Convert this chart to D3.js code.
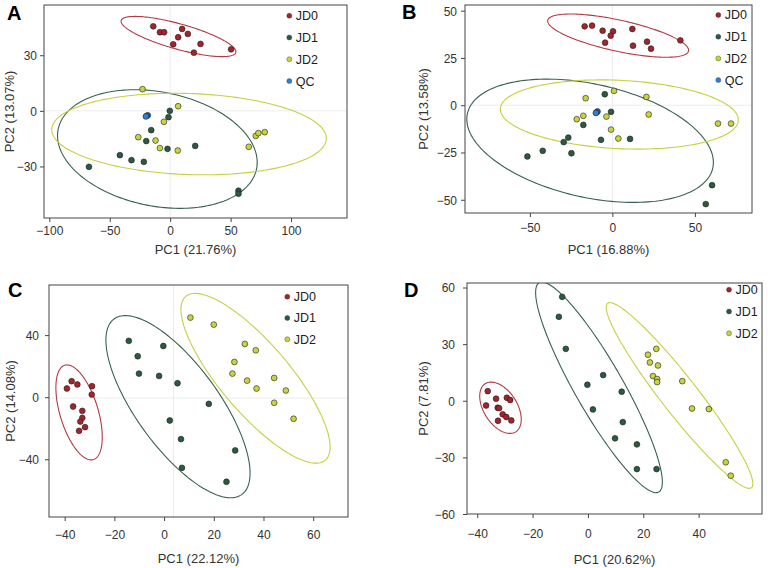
<!DOCTYPE html>
<html>
<head>
<meta charset="utf-8">
<script src="https://cdn.jsdelivr.net/npm/d3@7/dist/d3.min.js"></script>
<style>
  html, body { margin: 0; padding: 0; background: #fff; }
  svg { display: block; font-family: "Liberation Sans", Arial, Helvetica, sans-serif; }
</style>
</head>
<body>
<svg id="chart" width="768" height="568"></svg>
<script>
// ---------- DATA ----------
const groups = ["JD0", "JD1", "JD2", "QC"];
const groupColors = ["#a3252c", "#2c5a40", "#c8d43f", "#2f80d2"];
const ellipseColors = ["#b23a44", "#3a6150", "#c6d040"];

// Panel A
const A_JD0 = [[-14.0,45.6],[-8.5,42.4],[-5.0,42.4],[9.9,44.2],[14.6,41.5],[6.6,39.7],[2.5,35.9],[25.1,36.1],[19.6,31.4],[50.4,33.2]];
const A_JD1 = [[-0.3,0.0],[-1.4,-3.4],[-15.7,-10.4],[-19.8,-16.3],[-2.2,-20.5],[20.7,-18.9],[-41.6,-23.9],[-32.0,-26.6],[-21.8,-27.5],[-67.2,-30.2],[56.5,-43.1],[56.5,-44.7]];
const A_JD2 = [[-22.9,11.7],[6.6,2.5],[-5.2,-5.9],[-26.4,-14.2],[-12.1,-16.0],[-8.5,-20.1],[6.3,-21.4],[65.0,-19.4],[70.8,-13.5],[73.0,-12.0],[78.2,-11.5]];
const A_QC  = [[-18.5,-2.4],[-19.3,-2.7],[-20.1,-3.0]];
// ellipse: [cx, cy, rx, ry, rho]
const A_ell = [[6.9,40.1,47.5,10.85,-0.757],[-10.6,-20.6,82.6,32.0,-0.225],[15.6,-12.5,113.6,22.0,-0.106]];
const A_xTicks = [-100,-50,0,50,100], A_yTicks = [-30,0,30];

// Panel B
const B_JD0 = [[-16.8,41.7],[-12.3,42.1],[-5.9,39.4],[0.4,39.1],[-1.0,36.8],[-4.4,33.1],[12.1,40.3],[12.5,31.5],[21.0,33.6],[23.4,29.9],[41.2,34.3]];
const B_JD1 = [[-4.6,5.8],[-0.8,-3.5],[-17.6,-10.4],[-26.7,-17.1],[-29.5,-19.5],[-24.8,-25.4],[-42.2,-24.1],[-51.5,-27.1],[-6.9,-18.3],[10.7,-17.8],[60.4,-42.3],[56.6,-52.3]];
const B_JD2 = [[-16.2,3.7],[1.0,7.6],[20.6,4.4],[-21.6,-7.4],[-17.6,-5.6],[-3.6,-6.0],[22.0,-4.9],[-0.8,-12.9],[3.6,-17.6],[64.0,-9.7],[71.9,-9.7]];
const B_QC  = [[-9.0,-3.3],[-9.5,-3.7],[-10.0,-4.1]];
const B_ell = [[3.5,36.8,42.7,11.44,-0.677],[-13.5,-18.8,74.7,32.6,-0.351],[4.2,-4.9,72.1,18.3,-0.154]];
const B_xTicks = [-50,0,50], B_yTicks = [-50,-25,0,25,50];

// Panel C
const C_JD0 = [[-39.1,5.6],[-37.2,10.3],[-34.9,8.2],[-29.0,7.1],[-29.1,1.7],[-36.6,-6.0],[-32.9,-8.8],[-32.9,-13.3],[-33.7,-15.7],[-31.8,-19.3],[-34.2,-21.7]];
const C_JD1 = [[-14.2,36.3],[-0.3,33.0],[-10.6,26.4],[-10.1,15.2],[-2.0,13.7],[5.4,9.0],[18.0,-4.3],[2.3,-15.0],[6.8,-27.0],[28.6,-34.3],[7.2,-45.5],[25.1,-54.5]];
const C_JD2 = [[10.6,51.3],[20.0,46.8],[32.5,34.3],[36.9,30.2],[28.3,22.7],[27.5,15.2],[33.4,10.7],[44.3,12.4],[37.2,5.6],[49.0,4.3],[44.3,-3.6],[52.1,-13.9]];
const C_ell = [[-34.2,-9.8,9.33,30.6,-0.52],[5.6,-6.1,29.0,58.7,-0.73],[36.8,12.2,30.0,54.7,-0.81]];
const C_xTicks = [-40,-20,0,20,40,60], C_yTicks = [-40,0,40];

// Panel D
const D_JD0 = [[-36.2,5.1],[-36.8,-2.5],[-33.2,1.1],[-32.6,-3.7],[-32.1,-3.9],[-29.3,1.6],[-28.1,0.4],[-30.8,-7.2],[-29.5,-8.6],[-32.5,-10.6],[-27.7,-10.4]];
const D_JD1 = [[-9.3,55.1],[-10.5,44.5],[-8.0,27.5],[5.5,13.6],[-0.2,8.5],[12.2,4.8],[1.8,-4.6],[12.6,-11.3],[9.8,-19.9],[17.7,-23.1],[17.7,-36.2],[24.8,-36.2]];
const D_JD2 = [[21.7,24.4],[24.7,27.5],[22.4,20.3],[25.3,18.7],[23.5,13.1],[25.0,11.5],[25.0,9.9],[34.1,10.4],[37.6,-4.1],[43.7,-4.4],[49.8,-32.6],[51.6,-39.7]];
const D_ell = [[-31.6,-3.7,7.5,13.6,-0.45],[4.0,7.1,22.9,55.8,-0.9],[33.1,2.8,26.5,49.2,-0.95]];
const D_xTicks = [-40,-20,0,20,40], D_yTicks = [-60,-30,0,30,60];

// ---------- LAYOUT ----------
const panels = [
  { id:"A", box:[44,5,347,218], xd:[-104.4,146.3], yd:[-57.8,57.1], xt:A_xTicks, yt:A_yTicks,
    series:[A_JD0,A_JD1,A_JD2,A_QC], ell:A_ell, grid:[[0],[0]], xlab:"PC1 (21.76%)", ylab:"PC2 (13.07%)",
    letter:[7,19.5], xlabY:254, tickY:235, ylabX:9, ypad:3, leg:[289.3,15.7,21.8] },
  { id:"B", box:[465,5,752,213], xd:[-89.3,84.6], yd:[-57.0,53.0], xt:B_xTicks, yt:B_yTicks,
    series:[B_JD0,B_JD1,B_JD2,B_QC], ell:B_ell, grid:[[0],[0]], xlab:"PC1 (16.88%)", ylab:"PC2 (13.58%)",
    letter:[402,18.5], xlabY:254, tickY:232, ylabX:423, ypad:4, leg:[718.3,15,21.7] },
  { id:"C", box:[49,285,348,517], xd:[-46.3,74.0], yd:[-77.2,72.3], xt:C_xTicks, yt:C_yTicks,
    series:[C_JD0,C_JD1,C_JD2], ell:C_ell, grid:[[3.8],[-0.6]], xlab:"PC1 (22.12%)", ylab:"PC2 (14.08%)",
    letter:[8,297], xlabY:563, tickY:539, ylabX:10, ypad:6, leg:[287.3,296.7,21.3] },
  { id:"D", box:[467,283,762,514], xd:[-43.7,62.9], yd:[-60,62.4], xt:D_xTicks, yt:D_yTicks,
    series:[D_JD0,D_JD1,D_JD2], ell:D_ell, grid:[[],[]], xlab:"PC1 (20.62%)", ylab:"PC2 (7.81%)",
    letter:[404,297], xlabY:564, tickY:538, ylabX:423, ypad:8, leg:[729,289.7,21.8] }
];

const svg = d3.select("#chart");
const defs = svg.append("defs");

panels.forEach((p, pi) => {
  const [x0,y0,x1,y1] = p.box;
  const x = d3.scaleLinear().domain(p.xd).range([x0,x1]);
  const y = d3.scaleLinear().domain(p.yd).range([y1,y0]);
  const g = svg.append("g");

  defs.append("clipPath").attr("id","clip"+p.id)
    .append("rect").attr("x",x0).attr("y",y0).attr("width",x1-x0).attr("height",y1-y0);

  // grid lines
  g.selectAll(".gx").data(p.grid[0]).join("line")
    .attr("x1",d=>x(d)).attr("x2",d=>x(d)).attr("y1",y0).attr("y2",y1)
    .attr("stroke","#ececec").attr("stroke-width",1);
  g.selectAll(".gy").data(p.grid[1]).join("line")
    .attr("y1",d=>y(d)).attr("y2",d=>y(d)).attr("x1",x0).attr("x2",x1)
    .attr("stroke","#ececec").attr("stroke-width",1);

  // axes
  const xAxis = d3.axisBottom(x).tickValues(p.xt).tickSize(4).tickPadding(3).tickFormat(d3.format("d"));
  const yAxis = d3.axisLeft(y).tickValues(p.yt).tickSize(4).tickPadding(p.ypad).tickFormat(d3.format("d"));
  const gx = g.append("g").attr("transform",`translate(0,${y1})`).call(xAxis);
  const gy = g.append("g").attr("transform",`translate(${x0},0)`).call(yAxis);
  [gx,gy].forEach(a => {
    a.select(".domain").remove();
    a.selectAll(".tick line").attr("stroke","#444");
    a.selectAll(".tick text").attr("fill","#333").style("font-size","12px")
      .style("font-family","'Liberation Sans', Arial, sans-serif");
  });
  gx.selectAll(".tick text").attr("dy",null).attr("y", p.tickY - y1);
  gy.selectAll(".tick text").attr("dy","0.36em");

  // ellipses
  const line = d3.line().x(d=>x(d[0])).y(d=>y(d[1])).curve(d3.curveLinearClosed);
  const ts = d3.range(0, 360, 2).map(a => a*Math.PI/180);
  const eg = g.append("g").attr("clip-path",`url(#clip${p.id})`);
  p.ell.forEach((e, i) => {
    const [cx,cy,rx,ry,rho] = e;
    const pts = ts.map(t => [cx + rx*Math.cos(t), cy + ry*(rho*Math.cos(t) + Math.sqrt(1-rho*rho)*Math.sin(t))]);
    eg.append("path").attr("d", line(pts)).attr("fill","none")
      .attr("stroke", ellipseColors[i]).attr("stroke-width",1.1);
  });

  // points
  p.series.forEach((s, i) => {
    eg.selectAll(null).data(s).join("circle")
      .attr("cx",d=>x(d[0])).attr("cy",d=>y(d[1])).attr("r",2.9)
      .attr("fill", groupColors[i]).attr("stroke","#1e1e1e").attr("stroke-width",0.6);
  });

  // frame
  g.append("rect").attr("x",x0).attr("y",y0).attr("width",x1-x0).attr("height",y1-y0)
    .attr("fill","none").attr("stroke","#444").attr("stroke-width",1);

  // legend
  const [lx, ly, ldy] = p.leg;
  p.series.forEach((s, i) => {
    g.append("circle").attr("cx",lx).attr("cy",ly+i*ldy).attr("r",2.5)
      .attr("fill",groupColors[i]).attr("stroke","#333").attr("stroke-width",0.4);
    g.append("text").attr("x",lx+6.5).attr("y",ly+i*ldy+4.4).text(groups[i])
      .attr("fill","#222").style("font-size","12.5px");
  });

  // titles
  g.append("text").attr("x",(x0+x1)/2).attr("y",p.xlabY).attr("text-anchor","middle")
    .attr("fill","#333").style("font-size","13px").text(p.xlab);
  g.append("text").attr("transform",`translate(${p.ylabX},${(y0+y1)/2}) rotate(-90)`)
    .attr("text-anchor","middle").attr("dy","0.36em")
    .attr("fill","#333").style("font-size","13px").text(p.ylab);

  // panel letter
  g.append("text").attr("x",p.letter[0]).attr("y",p.letter[1]).text(p.id)
    .attr("fill","#000").style("font-size","20px").style("font-weight","bold");
});
</script>
</body>
</html>
